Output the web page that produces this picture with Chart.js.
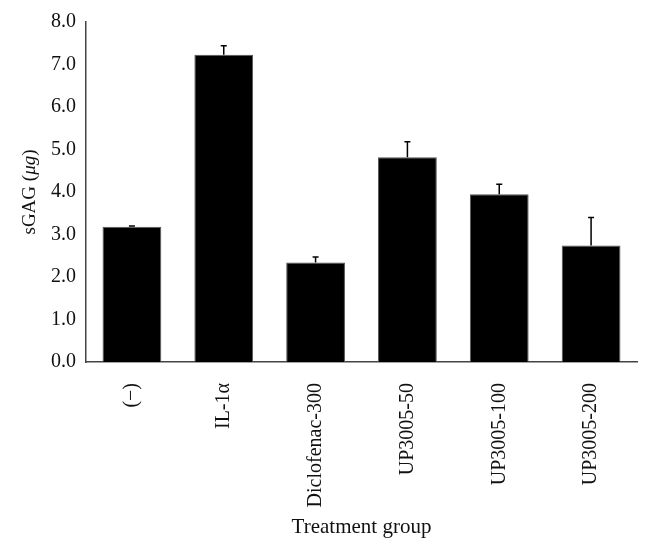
<!DOCTYPE html>
<html>
<head>
<meta charset="utf-8">
<script src="https://cdn.jsdelivr.net/npm/chart.js@4/dist/chart.umd.min.js"></script>
<style>
html,body{margin:0;padding:0;background:#fff;}
#wrap{width:650px;height:553px;position:relative;}
</style>
</head>
<body>
<div id="wrap"><canvas id="c"></canvas></div>
<script>
const categories = ["(\u2212)", "IL-1\u03b1", "Diclofenac-300", "UP3005-50", "UP3005-100", "UP3005-200"];
const means = [3.18, 7.23, 2.34, 4.82, 3.95, 2.74];
const errors = [0.02, 0.21, 0.13, 0.36, 0.23, 0.66];
// y title pieces: [text, italic]
const yTitleParts = [["sGAG (", false], ["\u03bcg", true], [")", false]];
const xTitle = "Treatment group";
const yMin = 0, yMax = 8, yStep = 1;

const FONT = "'Liberation Serif', 'DejaVu Serif', serif";

const errorBarPlugin = {
  id: 'errorBars',
  afterDatasetsDraw(chart) {
    const ctx = chart.ctx;
    const meta = chart.getDatasetMeta(0);
    const y = chart.scales.y;
    ctx.save();
    ctx.strokeStyle = '#000';
    ctx.lineWidth = 1.5;
    meta.data.forEach((bar, i) => {
      const x = bar.x;
      const yTop = y.getPixelForValue(means[i] + errors[i]);
      const yBase = y.getPixelForValue(means[i]);
      ctx.beginPath();
      ctx.moveTo(x, yBase);
      ctx.lineTo(x, yTop);
      ctx.moveTo(x - 3, yTop);
      ctx.lineTo(x + 3, yTop);
      ctx.stroke();
    });
    ctx.restore();
  }
};

const yTitlePlugin = {
  id: 'yTitle',
  afterDraw(chart) {
    const ctx = chart.ctx;
    const area = chart.chartArea;
    const size = 19;
    const fonts = yTitleParts.map(p => (p[1] ? 'italic ' : '') + size + 'px ' + FONT);
    ctx.save();
    let total = 0;
    const widths = yTitleParts.map((p, i) => { ctx.font = fonts[i]; const w = ctx.measureText(p[0]).width; total += w; return w; });
    const cx = 30, cy = (area.top + area.bottom) / 2;
    ctx.translate(cx, cy);
    ctx.rotate(-Math.PI / 2);
    ctx.fillStyle = '#111';
    ctx.textBaseline = 'middle';
    ctx.textAlign = 'left';
    let x = -total / 2;
    yTitleParts.forEach((p, i) => { ctx.font = fonts[i]; ctx.fillText(p[0], x, 0); x += widths[i]; });
    ctx.restore();
  }
};

new Chart(document.getElementById('c'), {
  type: 'bar',
  data: {
    labels: categories,
    datasets: [{
      data: means,
      backgroundColor: '#000',
      borderColor: '#555',
      borderWidth: 1,
      categoryPercentage: 0.8,
      barPercentage: 0.8
    }]
  },
  options: {
    responsive: true,
    maintainAspectRatio: false,
    animation: false,
    layout: { padding: { top: 22, right: 13, left: 0, bottom: 0 } },
    plugins: { legend: { display: false }, tooltip: { enabled: false } },
    scales: {
      x: {
        grid: { display: false },
        border: { display: true, color: '#444', width: 1.5 },
        ticks: {
          maxRotation: 90, minRotation: 90,
          color: '#111',
          font: { family: FONT, size: 20 },
          padding: 13
        },
        title: {
          display: true, text: xTitle, color: '#111',
          font: { family: FONT, size: 21 },
          padding: { top: 8, bottom: 13 }
        },
        afterFit(scale) { scale.height = 191; }
      },
      y: {
        min: yMin, max: yMax,
        grid: { display: false },
        border: { display: true, color: '#444', width: 1.5 },
        ticks: {
          stepSize: yStep,
          color: '#111',
          font: { family: FONT, size: 20 },
          padding: 2,
          callback: v => Number(v).toFixed(1)
        },
        afterFit(scale) { scale.width = 86; }
      }
    }
  },
  plugins: [errorBarPlugin, yTitlePlugin]
});
</script>
</body>
</html>
